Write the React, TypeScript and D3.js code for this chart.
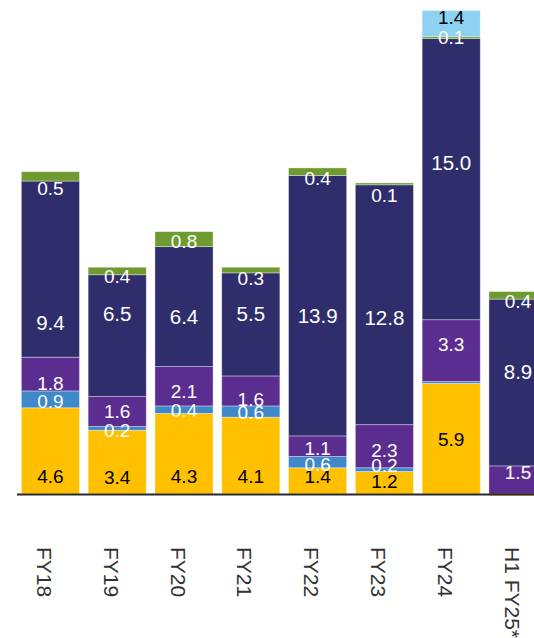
import React from "react";
import * as d3 from "d3";

const categories = ["FY18", "FY19", "FY20", "FY21", "FY22", "FY23", "FY24", "H1 FY25*"];
const seriesNames = ["yellow", "blue", "purple", "navy", "green", "sky"];
const yellowValues = [4.6, 3.4, 4.3, 4.1, 1.4, 1.2, 5.9, -0.1];
const blueValues = [0.9, 0.2, 0.4, 0.6, 0.6, 0.2, 0.1, 0];
const purpleValues = [1.8, 1.6, 2.1, 1.6, 1.1, 2.3, 3.3, 1.5];
const navyValues = [9.4, 6.5, 6.4, 5.5, 13.9, 12.8, 15.0, 8.9];
const greenValues = [0.5, 0.4, 0.8, 0.3, 0.4, 0.1, 0.1, 0.4];
const skyValues = [0, 0, 0, 0, 0, 0, 1.4, 0];
// which values carry a label
const yellowShown = [true, true, true, true, true, true, true, false];
const blueShown = [true, true, true, true, true, true, false, false];
const purpleShown = [true, true, true, true, true, true, true, true];
const navyShown = [true, true, true, true, true, true, true, true];
const greenShown = [true, true, true, true, true, true, true, true];
const skyShown = [false, false, false, false, false, false, true, false];

// styling
const colors: Record<string, string> = {
  yellow: "#FFC000",
  blue: "#3F88CA",
  purple: "#5C2D91",
  navy: "#302D6D",
  green: "#6E9A2F",
  sky: "#8ED1F0",
};
const textColors: Record<string, string> = {
  yellow: "#000",
  blue: "#fff",
  purple: "#fff",
  navy: "#fff",
  green: "#fff",
  sky: "#000",
};
const fontSizes: Record<string, number> = {
  yellow: 19,
  blue: 19,
  purple: 19,
  navy: 20.5,
  green: 19,
  sky: 19,
};
// label nudges in pixels, relative to segment centre
const labelNudge: Record<string, number[]> = {
  yellow: [26, 15, 23, 21, -4, -1, 1, 0],
  blue: [2, 2, 1, 1, 2, -4, 0, 0],
  purple: [9, 0, 5, 9, 2, 4, -6, -7],
  navy: [53, -22, 10, -11, 10, 13, -17, -11],
  green: [12, 6, 2, 8, 7, 12, 0, 6],
  sky: [0, 0, 0, 0, 0, 0, -6, 0],
};

const W = 534;
const H = 638;
const baseline = 494;

export default function App() {
  const values: Record<string, number[]> = {
    yellow: yellowValues,
    blue: blueValues,
    purple: purpleValues,
    navy: navyValues,
    green: greenValues,
    sky: skyValues,
  };
  const shown: Record<string, boolean[]> = {
    yellow: yellowShown,
    blue: blueShown,
    purple: purpleShown,
    navy: navyShown,
    green: greenShown,
    sky: skyShown,
  };

  const x = d3
    .scaleBand<string>()
    .domain(categories)
    .range([17, 17 + 8 * 66.8])
    .paddingInner(0.13)
    .paddingOuter(0.065);
  const y = d3.scaleLinear().domain([0, 26]).range([baseline, baseline - 26 * 18.74]);

  const segs: any[] = [];
  categories.forEach((c, i) => {
    let pos = 0;
    let neg = 0;
    seriesNames.forEach((s) => {
      const v = values[s][i];
      let y0: number, y1: number;
      if (v >= 0) {
        y0 = pos;
        y1 = pos + v;
        pos = y1;
      } else {
        y0 = neg + v;
        y1 = neg;
        neg = y0;
      }
      segs.push({ c, i, s, v, y0, y1 });
    });
  });

  const bw = x.bandwidth();

  return (
    <svg
      width={W}
      height={H}
      style={{ position: "absolute", left: 0, top: 0, display: "block" }}
      fontFamily="Liberation Sans, Arial, sans-serif"
    >
      <rect width={W} height={H} fill="#fff" />
      {segs
        .filter((d) => d.v !== 0)
        .map((d, k) => (
          <rect
            key={"r" + k}
            x={x(d.c)!}
            y={y(d.y1)}
            width={bw}
            height={Math.max(0, y(d.y0) - y(d.y1))}
            fill={colors[d.s]}
            stroke="rgba(255,255,255,0.45)"
            strokeWidth={0.8}
          />
        ))}
      <line x1={17} x2={W} y1={baseline + 0.5} y2={baseline + 0.5} stroke="#2b2b2b" strokeWidth={2} />
      {segs
        .filter((d) => shown[d.s][d.i])
        .map((d, k) => (
          <text
            key={"t" + k}
            x={x(d.c)! + bw / 2}
            y={(y(d.y0) + y(d.y1)) / 2 + labelNudge[d.s][d.i]}
            textAnchor="middle"
            dominantBaseline="central"
            fontSize={fontSizes[d.s]}
            fill={textColors[d.s]}
          >
            {d.v.toFixed(1)}
          </text>
        ))}
      {categories.map((c) => {
        const cx = x(c)! + bw / 2 - 6;
        return (
          <text
            key={"x" + c}
            transform={`translate(${cx - 7.5},547) rotate(90)`}
            fontSize={21}
            fill="#333"
            textAnchor="start"
          >
            {c}
          </text>
        );
      })}
    </svg>
  );
}
